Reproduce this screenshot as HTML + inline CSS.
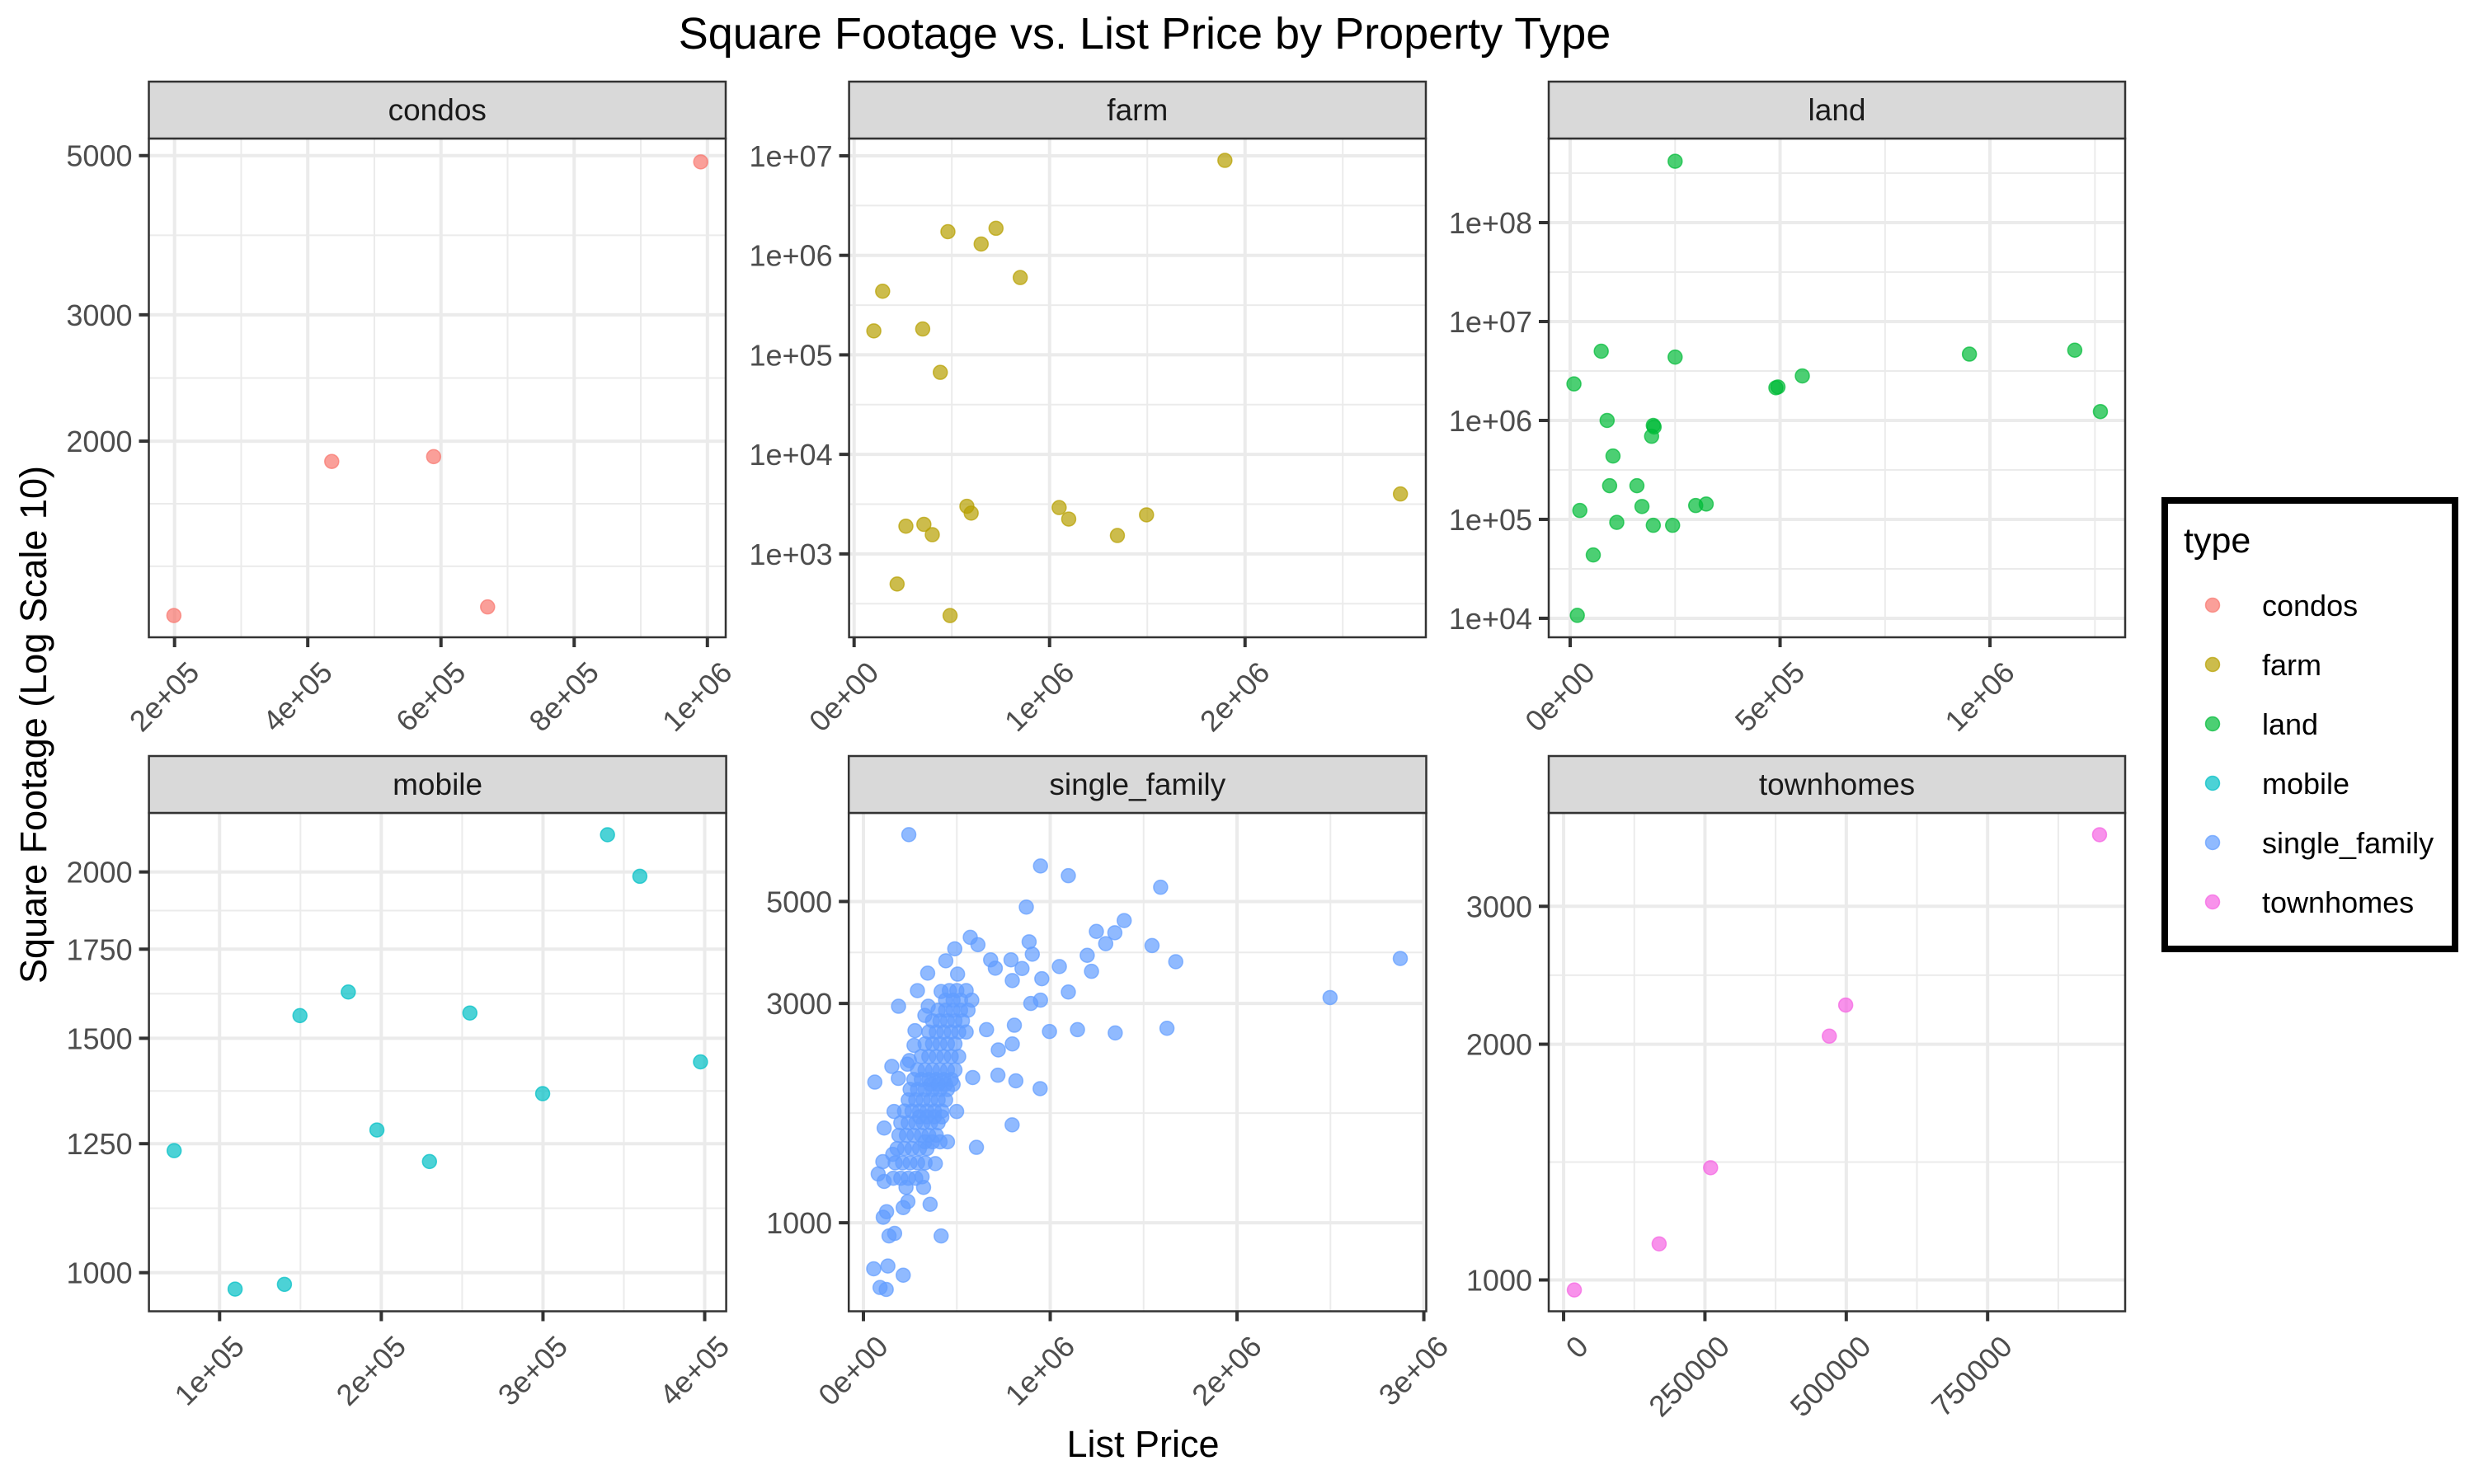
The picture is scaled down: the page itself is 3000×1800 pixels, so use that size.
<!DOCTYPE html>
<html><head><meta charset="utf-8"><style>
html,body{margin:0;padding:0;background:#fff;}
svg{display:block;font-family:"Liberation Sans",Arial,sans-serif;}
</style></head><body>
<svg id="chart" width="3000" height="1800" viewBox="0 0 3000 1800" xmlns="http://www.w3.org/2000/svg">
<rect width="3000" height="1800" fill="#fff"/>
<text x="1388" y="59" font-size="54" text-anchor="middle" fill="#000">Square Footage vs. List Price by Property Type</text>
<text x="1386" y="1767" font-size="45" text-anchor="middle" fill="#000">List Price</text>
<text transform="translate(56,879) rotate(-90)" font-size="45" text-anchor="middle" fill="#000">Square Footage (Log Scale 10)</text>
<g id="panels"></g>
<g id="legend">
<rect x="2625" y="607" width="352" height="544" fill="#fff" stroke="#000" stroke-width="8"/>
<text x="2648" y="670" font-size="43" fill="#000">type</text>
</g>
</svg>
<script>
// ---- data (list price, square footage) ----
const condosX = [990000, 436000, 589000, 670000, 199000];
const condosY = [4900, 1874, 1903, 1175, 1143];
const farmX = [1897000, 480000, 726000, 650000, 850000, 146000, 101000, 351000, 441000, 2795000, 577000, 599000, 1049000, 1098000, 1496000, 1347000, 265000, 357000, 400000, 220000, 491000];
const farmY = [9000000, 1730000, 1870000, 1300000, 598000, 436000, 174000, 182000, 66700, 4000, 3010, 2570, 2920, 2240, 2470, 1530, 1900, 1980, 1560, 498, 240];
const landX = [250000, 74000, 250000, 9000, 553000, 490000, 951000, 1202000, 1263000, 88000, 198000, 194000, 102000, 94000, 159000, 171000, 23000, 111000, 198000, 244000, 299000, 324000, 55000, 17000, 495000, 200000];
const landY = [417000000, 5010000, 4370000, 2340000, 2820000, 2140000, 4680000, 5130000, 1230000, 1000000, 891000, 692000, 437000, 219000, 219000, 135000, 123000, 93300, 87100, 87100, 138000, 143000, 43700, 10700, 2180000, 860000];
const mobileX = [339900, 359900, 149700, 179600, 254800, 397400, 299800, 197300, 71900, 229800, 109600, 140100];
const mobileY = [2133, 1985, 1560, 1625, 1567, 1440, 1363, 1280, 1235, 1212, 972, 980];
const sfX = [243000, 948000, 1097000, 1591000, 872000, 1396000, 1247000, 1346000, 1297000, 1545000, 572000, 613000, 887000, 904000, 489000, 1198000, 2874000, 1672000, 1049000, 1221000, 790000, 681000, 849000, 706000, 344000, 441000, 504000, 955000, 797000, 2498000, 1097000, 948000, 289000, 416000, 188000, 347000, 896000, 1625000, 1146000, 996000, 1348000, 808000, 659000, 329000, 276000, 722000, 797000, 61000, 152000, 246000, 816000, 946000, 585000, 720000, 499000, 796000, 605000, 385000, 357000, 416000, 213000, 106000, 124000, 137000, 167000, 55000, 131000, 213000, 89000, 122000, 79000, 104000, 111000, 164000, 235000, 187000, 157000, 111000, 228000, 322000, 314000, 238000, 271000,
 160000, 200000, 240000, 280000,
 170000, 210000, 250000, 290000, 330000,
 180000, 220000, 260000, 300000, 340000,
 190000, 230000, 270000, 310000, 350000, 390000,
 200000, 240000, 280000, 320000, 360000, 400000,
 220000, 260000, 300000, 340000, 380000, 420000,
 240000, 280000, 320000, 360000, 400000, 440000,
 250000, 290000, 330000, 370000, 410000, 450000,
 270000, 310000, 350000, 390000, 430000, 470000,
 290000, 330000, 370000, 410000, 450000, 490000,
 310000, 350000, 390000, 430000, 470000, 510000,
 330000, 370000, 410000, 450000, 490000,
 350000, 390000, 430000, 470000, 510000, 550000,
 370000, 410000, 450000, 490000, 530000,
 400000, 440000, 480000, 520000, 560000,
 440000, 480000, 520000, 580000,
 460000, 500000, 550000,
 300000, 340000, 380000, 420000, 360000, 400000, 440000, 480000, 330000, 370000, 410000, 450000];
const sfY = [6988, 5973, 5690, 5370, 4862, 4544, 4304, 4276, 4048, 4009, 4178, 4027, 4086, 3840, 3945, 3818, 3758, 3698, 3609, 3524, 3733, 3733, 3574, 3580, 3492, 3715, 3475, 3396, 3365, 3090, 3177, 3050, 3199, 3185, 2958, 2958, 3000, 2649, 2631, 2607, 2588, 2690, 2631, 2825, 2618, 2377, 2449, 2023, 2188, 2254, 2036, 1958, 2070, 2094, 1746, 1633, 1459, 1345, 1097, 936, 1079, 1028, 1057, 936, 948, 794, 805, 769, 723, 716, 1277, 1358, 1607, 1746, 2213, 2061, 1409, 1230, 1194, 1194, 1259, 1112, 2432,
 1250, 1250, 1250, 1250,
 1350, 1350, 1350, 1350, 1350,
 1450, 1450, 1450, 1450, 1450,
 1550, 1550, 1550, 1550, 1550, 1550,
 1650, 1650, 1650, 1650, 1650, 1650,
 1750, 1750, 1750, 1750, 1750, 1750,
 1850, 1850, 1850, 1850, 1850, 1850,
 1950, 1950, 1950, 1950, 1950, 1950,
 2050, 2050, 2050, 2050, 2050, 2050,
 2150, 2150, 2150, 2150, 2150, 2150,
 2300, 2300, 2300, 2300, 2300, 2300,
 2450, 2450, 2450, 2450, 2450,
 2600, 2600, 2600, 2600, 2600, 2600,
 2750, 2750, 2750, 2750, 2750,
 2900, 2900, 2900, 2900, 2900,
 3050, 3050, 3050, 3050,
 3200, 3200, 3200,
 1700, 1700, 1700, 1700, 2000, 2000, 2000, 2000, 1500, 1500, 1500, 1500];
const townX = [948000, 499000, 470000, 260000, 169000, 19000];
const townY = [3703, 2244, 2048, 1391, 1112, 971];

// ---- legend entries ----
const legendLabels = ["condos", "farm", "land", "mobile", "single_family", "townhomes"];
const legendColors = ["#F8766D", "#B79F00", "#00BA38", "#00BFC4", "#619CFF", "#F564E3"];

// ---- tick labels ----
const condosXTicks = [200000, 400000, 600000, 800000, 1000000];
const condosXLabels = ["2e+05", "4e+05", "6e+05", "8e+05", "1e+06"];
const condosYTicks = [2000, 3000, 5000];
const farmXTicks = [0, 1000000, 2000000];
const farmXLabels = ["0e+00", "1e+06", "2e+06"];
const farmYTicks = [1e3, 1e4, 1e5, 1e6, 1e7];
const landXTicks = [0, 500000, 1000000];
const landXLabels = ["0e+00", "5e+05", "1e+06"];
const landYTicks = [1e4, 1e5, 1e6, 1e7, 1e8];
const mobileXTicks = [100000, 200000, 300000, 400000];
const mobileXLabels = ["1e+05", "2e+05", "3e+05", "4e+05"];
const mobileYTicks = [1000, 1250, 1500, 1750, 2000];
const sfXTicks = [0, 1000000, 2000000, 3000000];
const sfXLabels = ["0e+00", "1e+06", "2e+06", "3e+06"];
const sfYTicks = [1000, 3000, 5000];
const townXTicks = [0, 250000, 500000, 750000];
const townXLabels = ["0", "250000", "500000", "750000"];
const townYTicks = [1000, 2000, 3000];

const NS = "http://www.w3.org/2000/svg";
function mk(tag, attrs, parent) {
  const e = document.createElementNS(NS, tag);
  for (const k in attrs) e.setAttribute(k, attrs[k]);
  parent.appendChild(e);
  return e;
}
function fmtY(v, sci) {
  if (sci) { const p = Math.round(Math.log10(v)); return "1e+" + (p < 10 ? "0" : "") + p; }
  return String(v);
}
function midsLog(ticks) {
  const out = [];
  for (let i = 0; i < ticks.length - 1; i++) out.push((Math.log10(ticks[i]) + Math.log10(ticks[i + 1])) / 2);
  return out;
}
function midsLin(ticks) {
  const out = [];
  for (let i = 0; i < ticks.length - 1; i++) out.push((ticks[i] + ticks[i + 1]) / 2);
  return out;
}

const panels = [
  {name: "condos", sci: false, L: 180.5, R: 880, T: 168, B: 773, xd: [161400, 1027500], yd: [3.0277, 3.7228],
   xt: condosXTicks, xl: condosXLabels, xm: [300000, 500000, 700000, 900000], yt: condosYTicks, ym: [3.1266, 3.2138, 3.389, 3.588],
   xs: condosX, ys: condosY, c: legendColors[0]},
  {name: "farm", sci: true, L: 1029.6, R: 1729, T: 168, B: 773, xd: [-25700, 2925000], yd: [2.162, 7.174],
   xt: farmXTicks, xl: farmXLabels, xm: [500000, 1500000, 2500000], yt: farmYTicks, ym: [2.5, 3.5, 4.5, 5.5, 6.5],
   xs: farmX, ys: farmY, c: legendColors[1]},
  {name: "land", sci: true, L: 1878, R: 2577, T: 168, B: 773, xd: [-51100, 1322000], yd: [3.808, 8.85],
   xt: landXTicks, xl: landXLabels, xm: [250000, 750000, 1250000], yt: landYTicks, ym: [4.5, 5.5, 6.5, 7.5, 8.5],
   xs: landX, ys: landY, c: legendColors[2]},
  {name: "mobile", sci: false, L: 180.6, R: 880.6, T: 986, B: 1590.5, xd: [56300, 413300], yd: [2.971, 3.3454],
   xt: mobileXTicks, xl: mobileXLabels, xm: midsLin(mobileXTicks), yt: mobileYTicks, ym: midsLog(mobileYTicks),
   xs: mobileX, ys: mobileY, c: legendColors[3]},
  {name: "single_family", sci: false, L: 1029.2, R: 1729.5, T: 986, B: 1590.5, xd: [-78600, 3013000], yd: [2.8074, 3.8917],
   xt: sfXTicks, xl: sfXLabels, xm: [500000, 1500000, 2500000], yt: sfYTicks, ym: midsLog(sfYTicks),
   xs: sfX, ys: sfY, c: legendColors[4]},
  {name: "townhomes", sci: false, L: 1878, R: 2577, T: 986, B: 1590.5, xd: [-26300, 993300], yd: [2.96, 3.5964],
   xt: townXTicks, xl: townXLabels, xm: [125000, 375000, 625000, 875000], yt: townYTicks, ym: midsLog(townYTicks),
   xs: townX, ys: townY, c: legendColors[5]}
];

const root = document.getElementById("panels");
panels.forEach(p => {
  const sx = v => p.L + (v - p.xd[0]) / (p.xd[1] - p.xd[0]) * (p.R - p.L);
  const syl = lv => p.B - (lv - p.yd[0]) / (p.yd[1] - p.yd[0]) * (p.B - p.T);
  const sy = v => syl(Math.log10(v));
  const g = mk("g", {}, root);
  
  
  const bg = mk("rect", {x: p.L, y: p.T, width: p.R - p.L, height: p.B - p.T, fill: "#fff"}, g);
  
  
  p.xm.forEach(v => { const x = sx(v); if (x > p.L && x < p.R) { const l = mk("line", {x1: x, x2: x, y1: p.T, y2: p.B, stroke: "#ebebeb", "stroke-width": 2}, g);
    
     } });
  p.ym.forEach(v => { const y = syl(v); if (y > p.T && y < p.B) { const l = mk("line", {x1: p.L, x2: p.R, y1: y, y2: y, stroke: "#ebebeb", "stroke-width": 2}, g);
    
     } });
  p.xt.forEach((v, i) => {
    const x = sx(v);
    const l = mk("line", {x1: x, x2: x, y1: p.T, y2: p.B, stroke: "#ebebeb", "stroke-width": 4}, g);
    
    
    const t = mk("line", {x1: x, x2: x, y1: p.B, y2: p.B + 12, stroke: "#333", "stroke-width": 4}, g);
    
    
    const tx = mk("text", {transform: "translate(" + (x + 32) + "," + (p.B + 45) + ") rotate(-45)", "font-size": 36, fill: "#4d4d4d", "text-anchor": "end"}, g);
    tx.textContent = p.xl[i];
    
    
  });
  p.yt.forEach(v => {
    const y = sy(v);
    const l = mk("line", {x1: p.L, x2: p.R, y1: y, y2: y, stroke: "#ebebeb", "stroke-width": 4}, g);
    
    
    const t = mk("line", {x1: p.L - 12, x2: p.L, y1: y, y2: y, stroke: "#333", "stroke-width": 4}, g);
    
    
    const tx = mk("text", {x: p.L - 20, y: y + 13, "font-size": 36, fill: "#4d4d4d", "text-anchor": "end"}, g);
    tx.textContent = fmtY(v, p.sci);
    
    
  });
  p.xs.forEach((v, i) => {
    const c = mk("circle", {cx: sx(v), cy: sy(p.ys[i]), r: 8.5, fill: p.c, "fill-opacity": 0.7, stroke: p.c, "stroke-opacity": 0.7, "stroke-width": 1.5}, g);
    
    
  });
  const br = mk("rect", {x: p.L, y: p.T, width: p.R - p.L, height: p.B - p.T, fill: "none", stroke: "#333", "stroke-width": 2.5}, g);
  
  
  const st = mk("rect", {x: p.L, y: p.T - 69, width: p.R - p.L, height: 69, fill: "#d9d9d9", stroke: "#333", "stroke-width": 2.5}, g);
  
  
  const stt = mk("text", {x: (p.L + p.R) / 2, y: p.T - 22, "font-size": 37, fill: "#1a1a1a", "text-anchor": "middle"}, g);
  stt.textContent = p.name;
  
  
});

const lg = document.getElementById("legend");
legendLabels.forEach((lab, i) => {
  const y = 734 + i * 72;
  const c = mk("circle", {cx: 2683, cy: y, r: 8.5, fill: legendColors[i], "fill-opacity": 0.7, stroke: legendColors[i], "stroke-opacity": 0.7, "stroke-width": 1.5}, lg);
  
  
  const t = mk("text", {x: 2743, y: y + 13, "font-size": 36, fill: "#000"}, lg);
  t.textContent = lab;
  
  
});
</script>
</body></html>
